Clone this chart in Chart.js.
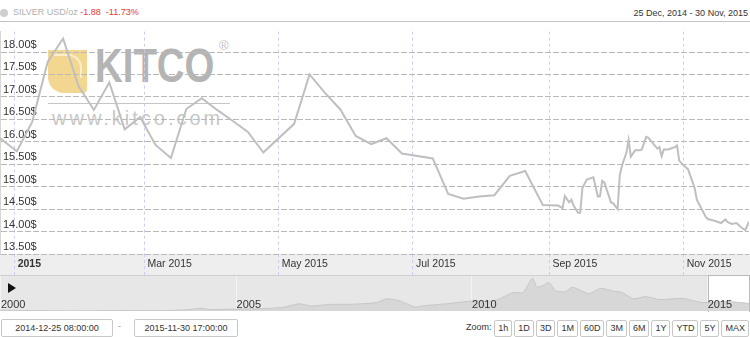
<!DOCTYPE html>
<html>
<head>
<meta charset="utf-8">
<script src="https://cdn.jsdelivr.net/npm/chart.js@4.4.1/dist/chart.umd.min.js"></script>
<style>
  body { margin: 0; background: #fff; font-family: 'Liberation Sans', Arial, sans-serif; }
  #wrap { position: relative; width: 750px; height: 337px; overflow: hidden; }
  .abs { position: absolute; }
  #dot { left: 0; top: 9px; width: 8px; height: 8px; border-radius: 50%; background: #cfcfcf; }
  #title { left: 13px; top: 7px; font-size: 9px; color: #b0b0b0; white-space: pre; }
  #title .red { color: #e0393e; }
  #range { right: 2px; top: 8px; font-size: 9px; color: #333; }
  #topline { left: 0; top: 21px; width: 750px; height: 1px; background: #c4c4c4; }
  #gold { left: 48px; top: 50px; width: 39px; height: 43px; background: #f3d68f; border-radius: 0 0 4px 16px; }
  #gold:after { content: ''; position: absolute; left: 6px; top: 4px; width: 26px; height: 22px;
                border-top: 2px solid #fbeecb; border-right: 2px solid #fbeecb; border-radius: 0 14px 0 0; }
  #kitco { left: 95px; top: 42px; font-size: 48px; line-height: 48px; font-weight: bold; color: #b4b4b4;
           transform: scaleX(0.8); transform-origin: 0 0; letter-spacing: 0px; }
  #reg { left: 219px; top: 38px; font-size: 13px; color: #c0c0c0; }
  #wmline { left: 48px; top: 103px; width: 182px; height: 1px; background: #c6c6c6; }
  #www { left: 52px; top: 108px; font-size: 20px; line-height: 20px; letter-spacing: 3px; color: #c8c8c8; }
  #band { left: 0; top: 254px; width: 750px; height: 21px; background: #eeeeee; border-bottom: 1px solid #cfcfcf; }
  #nav { left: 0; top: 276px; width: 750px; height: 35px; background: #e7e7e7; }
  #navSel { left: 708px; top: 275px; width: 40px; height: 36px; background: #fff; border: 1px solid #b9b9b9; border-bottom: none; }
  #play { left: 8px; top: 283px; width: 0; height: 0; border-left: 8px solid #111;
          border-top: 5px solid transparent; border-bottom: 5px solid transparent; }
  .box { top: 319px; height: 16px; border: 1px solid #c8c8c8; border-radius: 2px; font-size: 9px;
         line-height: 16px; text-align: center; color: #333; background: #fff; }
  #dash { left: 118px; top: 321px; font-size: 9px; color: #999; }
  #zoomLbl { left: 466px; top: 322px; font-size: 9px; color: #333; }
  #btns { right: 1px; top: 320px; display: flex; gap: 2px; }
  #btns span { border: 1px solid #c8c8c8; border-radius: 2px; font-size: 9px; height: 15px; line-height: 15px;
               padding: 0 3px; color: #333; background: #fff; }
</style>
</head>
<body>
<div id="wrap">
  <div class="abs" id="dot"></div>
  <div class="abs" id="title">SILVER USD/oz <span class="red">-1.88  -11.73%</span></div>
  <div class="abs" id="range">25 Dec, 2014 - 30 Nov, 2015</div>
  <div class="abs" id="topline"></div>
  <div class="abs" id="gold"></div>
  <div class="abs" id="kitco">KITCO</div>
  <div class="abs" id="reg">®</div>
  <div class="abs" id="wmline"></div>
  <div class="abs" id="www">www.kitco.com</div>
  <div class="abs" id="band"></div>
  <canvas id="mainChart" class="abs" width="750" height="253" style="left:0;top:22px"></canvas>
  <div class="abs" id="nav"></div>
  <div class="abs" id="navSel"></div>
  <canvas id="navChart" class="abs" width="750" height="35" style="left:0;top:276px"></canvas>
  <div class="abs" id="play"></div>
  <div class="abs box" style="left:1px;width:110px">2014-12-25 08:00:00</div>
  <div class="abs" id="dash">-</div>
  <div class="abs box" style="left:134px;width:102px">2015-11-30 17:00:00</div>
  <div class="abs" id="zoomLbl">Zoom:</div>
  <div class="abs" id="btns"></div>
</div>
<script>
// silver price, USD/oz
var mainDates = [
  '2014-12-25 08:00', '2015-01-02', '2015-01-09', '2015-01-16', '2015-01-23', '2015-01-30',
  '2015-02-06', '2015-02-13', '2015-02-20', '2015-02-27', '2015-03-06', '2015-03-13',
  '2015-03-20', '2015-03-27', '2015-04-03', '2015-04-10', '2015-04-17', '2015-04-24',
  '2015-05-08', '2015-05-15', '2015-05-22', '2015-05-29', '2015-06-05', '2015-06-12',
  '2015-06-19', '2015-06-26', '2015-07-10', '2015-07-17', '2015-07-24', '2015-07-31',
  '2015-08-07', '2015-08-14', '2015-08-21', '2015-08-29', '2015-09-05', '2015-09-07',
  '2015-09-08', '2015-09-10', '2015-09-11', '2015-09-12', '2015-09-14', '2015-09-15',
  '2015-09-16', '2015-09-18', '2015-09-21', '2015-09-23', '2015-09-24', '2015-09-25',
  '2015-09-26', '2015-09-29', '2015-09-30', '2015-10-02', '2015-10-03', '2015-10-04',
  '2015-10-06', '2015-10-07', '2015-10-08', '2015-10-10', '2015-10-12', '2015-10-13',
  '2015-10-15', '2015-10-16', '2015-10-18', '2015-10-20', '2015-10-21', '2015-10-22',
  '2015-10-23', '2015-10-25', '2015-10-28', '2015-10-29', '2015-10-30', '2015-11-01',
  '2015-11-03', '2015-11-06', '2015-11-07', '2015-11-09', '2015-11-11', '2015-11-12',
  '2015-11-15', '2015-11-18', '2015-11-20', '2015-11-21', '2015-11-23', '2015-11-25',
  '2015-11-27', '2015-11-29', '2015-11-30 17:00'
];
var mainValues = [
  16.08, 15.79, 16.45, 17.78, 18.30, 17.24,
  16.71, 17.32, 16.28, 16.55, 15.93, 15.64,
  16.73, 16.97, 16.71, 16.47, 16.22, 15.76,
  16.40, 17.50, 17.09, 16.72, 16.13, 15.95,
  16.08, 15.74, 15.63, 14.84, 14.73, 14.78,
  14.81, 15.24, 15.35, 14.59, 14.58, 14.52,
  14.79, 14.65, 14.71, 14.58, 14.42, 14.42,
  14.97, 15.16, 15.21, 14.78, 14.79, 15.13,
  15.09, 14.65, 14.63, 14.50, 15.26, 15.47,
  15.76, 16.04, 15.67, 15.81, 15.81, 15.83,
  16.11, 16.09, 15.97, 15.85, 15.88, 15.68,
  15.83, 15.83, 15.88, 15.92, 15.58, 15.47,
  15.39, 14.97, 14.71, 14.52, 14.33, 14.28,
  14.24, 14.19, 14.27, 14.21, 14.17, 14.19,
  14.10, 14.03, 14.22
];

var xTickDates = ['2015-01-01', '2015-03-01', '2015-05-01', '2015-07-01', '2015-09-01', '2015-11-01'];
var xTickLabels = ['2015', 'Mar 2015', 'May 2015', 'Jul 2015', 'Sep 2015', 'Nov 2015'];
var yTickValues = [13.5, 14, 14.5, 15, 15.5, 16, 16.5, 17, 17.5, 18];
var yTickLabels = ['13.50$', '14.00$', '14.50$', '15.00$', '15.50$', '16.00$', '16.50$', '17.00$', '17.50$', '18.00$'];

// navigator: long-term silver history (fractional years)
var navYears = [2000.0, 2000.5, 2001.0, 2001.5, 2002.0, 2002.5, 2003.0, 2003.5, 2004.0, 2004.27,
  2004.45, 2005.0, 2005.5, 2006.0, 2006.35, 2006.6, 2007.0, 2007.5, 2008.0, 2008.2,
  2008.5, 2008.8, 2009.0, 2009.5, 2010.0, 2010.5, 2010.9, 2011.1, 2011.3, 2011.4,
  2011.55, 2011.65, 2011.8, 2012.0, 2012.15, 2012.5, 2012.75, 2013.0, 2013.2, 2013.45,
  2013.7, 2014.0, 2014.5, 2014.9, 2015.4, 2015.91];
var navValues = [5.3, 5.0, 4.6, 4.3, 4.5, 4.8, 4.7, 4.6, 6.0, 7.9,
  6.0, 6.8, 7.1, 9.0, 13.8, 11.0, 13.0, 13.3, 15.5, 20.5,
  17.5, 9.5, 11.3, 14.0, 17.5, 18.0, 29.0, 28.5, 48.0, 36.0,
  39.0, 42.5, 31.0, 30.0, 36.0, 27.5, 34.5, 31.0, 29.0, 20.5,
  23.5, 19.5, 21.0, 15.5, 17.0, 14.2];
var navLabelYears = [2000, 2005, 2010, 2015];
var navLabels = ['2000', '2005', '2010', '2015'];

var zoomButtons = ['1h', '1D', '3D', '1M', '60D', '3M', '6M', '1Y', 'YTD', '5Y', 'MAX'];

var FONT = "'Liberation Sans', Arial, sans-serif";

// days since 1 Jan 2015 (UTC)
function dayOf(s) {
  let parts = s.split(' ');
  let d = parts[0].split('-').map(Number);
  let h = 0, m = 0;
  if (parts[1]) {
    let t = parts[1].split(':').map(Number);
    h = t[0]; m = t[1];
  }
  return (Date.UTC(d[0], d[1] - 1, d[2], h, m) - Date.UTC(2015, 0, 1)) / 86400000;
}

let btnBox = document.getElementById('btns');
zoomButtons.forEach(function (b) {
  let s = document.createElement('span');
  s.textContent = b;
  btnBox.appendChild(s);
});

let mainData = mainDates.map(function (d, i) {
  return { x: dayOf(d), y: mainValues[i] };
});

new Chart(document.getElementById('mainChart'), {
  type: 'line',
  data: {
    datasets: [{
      data: mainData,
      borderColor: '#bfbfbf',
      borderWidth: 2,
      pointRadius: 0,
      tension: 0,
      fill: false
    }]
  },
  options: {
    responsive: false,
    animation: false,
    events: [],
    layout: { padding: { left: 0, right: 1, top: 0, bottom: 0 } },
    plugins: { legend: { display: false }, tooltip: { enabled: false } },
    scales: {
      x: {
        type: 'linear',
        min: dayOf(mainDates[0]),
        max: dayOf(mainDates[mainDates.length - 1]),
        afterBuildTicks: function (s) { s.ticks = xTickDates.map(function (d) { return { value: dayOf(d) }; }); },
        afterFit: function (s) { s.height = 21; },
        grid: { color: '#cdcdf3', lineWidth: 1, drawTicks: true, tickLength: 21,
                tickColor: '#cdcdf3', tickBorderDash: [3, 3] },
        border: { display: false, dash: [3, 3] },
        ticks: {
          autoSkip: false, maxRotation: 0, align: 'start', labelOffset: 3, padding: -17,
          color: '#333',
          font: function (c) { return { family: FONT, size: 10.5, weight: c.index === 0 ? 'bold' : 'normal' }; },
          callback: function (v, i) { return xTickLabels[i]; }
        }
      },
      y: {
        min: 13.5,
        max: 18.455,
        position: 'left',
        afterBuildTicks: function (s) { s.ticks = yTickValues.map(function (v) { return { value: v }; }); },
        afterFit: function (s) { s.width = 0; },
        grid: { color: '#b9b9b9', drawTicks: false },
        border: { display: true, color: '#d6d6d6', dash: [6, 2] },
        ticks: {
          mirror: true, padding: 3, labelOffset: -7, color: '#333',
          font: { family: FONT, size: 11 },
          callback: function (v, i) { return yTickLabels[i]; }
        }
      }
    }
  }
});

// year labels and separators in the navigator
const navLabelPlugin = {
  id: 'navLabels',
  beforeDatasetsDraw(chart) {
    const ctx = chart.ctx, x = chart.scales.x;
    ctx.save();
    ctx.strokeStyle = '#f3f3f3';
    ctx.lineWidth = 1;
    navLabelYears.forEach(function (yr) {
      let px = Math.round(x.getPixelForValue(yr)) + 0.5;
      ctx.beginPath(); ctx.moveTo(px, 0); ctx.lineTo(px, chart.height); ctx.stroke();
    });
    ctx.restore();
  },
  afterDatasetsDraw(chart) {
    const ctx = chart.ctx, x = chart.scales.x;
    ctx.save();
    ctx.fillStyle = '#333';
    ctx.font = '11px ' + FONT;
    ctx.textBaseline = 'alphabetic';
    navLabelYears.forEach(function (yr, i) {
      ctx.fillText(navLabels[i], x.getPixelForValue(yr) + 1, 32);
    });
    ctx.restore();
  }
};

new Chart(document.getElementById('navChart'), {
  type: 'line',
  data: {
    datasets: [{
      data: navYears.map(function (y, i) { return { x: y, y: navValues[i] }; }),
      borderColor: '#c6c6c6',
      backgroundColor: '#d7d7d7',
      borderWidth: 1,
      pointRadius: 0,
      tension: 0.2,
      fill: 'start'
    }]
  },
  options: {
    responsive: false,
    animation: false,
    events: [],
    layout: { padding: 0 },
    plugins: { legend: { display: false }, tooltip: { enabled: false } },
    scales: {
      x: { type: 'linear', display: false, min: 2000, max: 2015.92 },
      y: { display: false, min: 4.2, max: 51 }
    }
  },
  plugins: [navLabelPlugin]
});
</script>
</body>
</html>
